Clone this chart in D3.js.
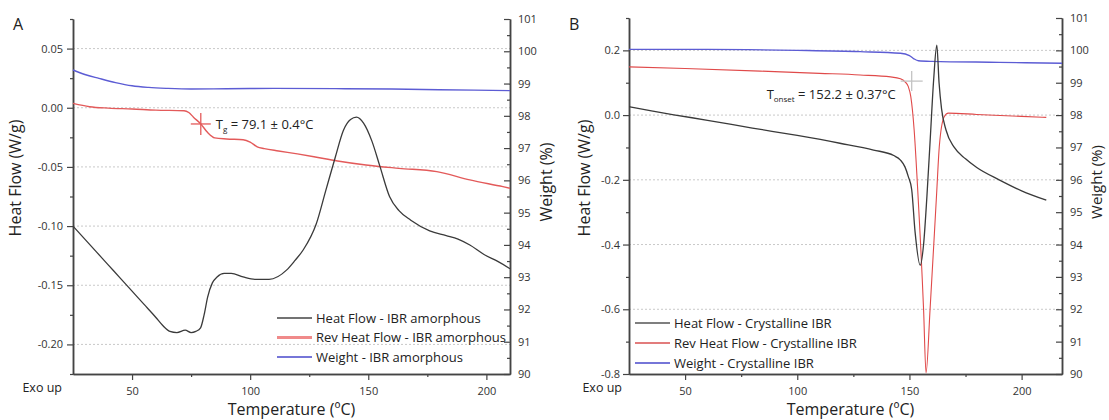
<!DOCTYPE html>
<html>
<head>
<meta charset="utf-8">
<script src="https://cdn.jsdelivr.net/npm/d3@7"></script>
<style>
  body { margin: 0; background: #fff; }
  svg { font-family: 'Open Sans', sans-serif; }
  .axis path, .axis line { stroke: #444; }
  .axis text { font-size: 11px; fill: #333; font-family: 'Open Sans', sans-serif; }
</style>
</head>
<body>
<div id="chart"></div>
<script>
// ---- data (temperature in ºC, heat flow in W/g, weight in %) ----
const tempTicks = [50, 100, 150, 200];
const weightTicks = [90, 91, 92, 93, 94, 95, 96, 97, 98, 99, 100, 101];
const heatTicksA = [-0.20, -0.15, -0.10, -0.05, 0.00, 0.05];
const heatTicksB = [-0.8, -0.6, -0.4, -0.2, 0.0, 0.2];

const tempDomainA = [25, 210];
const tempDomainB = [25, 218];
const heatDomainA = [-0.225, 0.075];
const heatDomainB = [-0.8, 0.3];
const weightDomain = [90, 101];

// panel A, amorphous IBR
const heatFlowA = [[25,-0.100],[30,-0.111],[35,-0.122],[40,-0.133],[45,-0.144],[50,-0.155],[55,-0.166],
  [60,-0.177],[63,-0.184],[66,-0.189],[69,-0.190],[72.5,-0.188],[75,-0.190],[77,-0.189],[79,-0.186],
  [80.5,-0.175],[82,-0.160],[84,-0.148],[86,-0.143],[89,-0.140],[92,-0.140],[97,-0.143],[102,-0.145],
  [108,-0.145],[115.5,-0.137],[119,-0.129],[122.5,-0.120],[128,-0.098],[132,-0.070],[136,-0.042],
  [139.5,-0.019],[142.5,-0.010],[145,-0.008],[148,-0.013],[151.5,-0.028],[155,-0.050],[159,-0.075],
  [163,-0.087],[168,-0.095],[176,-0.104],[183,-0.108],[188,-0.111],[193,-0.116],[199,-0.124],
  [205,-0.130],[210,-0.136]];
const revHeatFlowA = [[25,0.0037],[32,0.0009],[40,-0.0003],[50,-0.001],[60,-0.002],[72,-0.0025],
  [74,-0.004],[76,-0.008],[79.1,-0.0137],[82,-0.021],[85,-0.0255],[90,-0.0264],[97,-0.027],
  [100,-0.029],[103,-0.033],[106,-0.0345],[112,-0.0365],[120,-0.039],[127,-0.0414],[137,-0.045],
  [149,-0.0484],[163,-0.0512],[179,-0.054],[193,-0.061],[207,-0.0667],[210,-0.068]];
const weightA = [[25,99.42],[30,99.28],[36,99.16],[43,99.03],[50,98.93],[57,98.88],[65,98.85],
  [75,98.83],[90,98.84],[110,98.85],[140,98.84],[160,98.83],[180,98.81],[210,98.78]];

// panel B, crystalline IBR
const heatFlowB = [[25,0.026],[35,0.013],[45,0.001],[60,-0.016],[80,-0.040],[100,-0.063],[119,-0.087],
  [134,-0.108],[143,-0.125],[146,-0.139],[148,-0.160],[149.5,-0.190],[151,-0.230],[152.5,-0.360],
  [154.8,-0.464],[156.3,-0.400],[157.8,-0.250],[159.3,-0.070],[160.8,0.110],[162.2,0.216],
  [163.2,0.100],[164.3,0.020],[166.3,-0.046],[170,-0.100],[175,-0.135],[180,-0.162],[190,-0.200],
  [200,-0.234],[211,-0.263]];
const revHeatFlowB = [[25,0.149],[50,0.144],[83.5,0.136],[110,0.129],[128,0.124],[141.6,0.118],
  [146,0.112],[148,0.103],[149.5,0.088],[150.6,0.057],[152.1,-0.046],[153.6,-0.220],[156.3,-0.600],
  [157.4,-0.797],[159.2,-0.600],[162.2,-0.232],[163.3,-0.098],[165.5,-0.005],[167.3,0.006],
  [180,0.002],[200,-0.004],[211,-0.007]];
const weightB = [[25,100.03],[60,100.03],[100,100.0],[128,99.96],[146,99.91],[150,99.84],[152,99.74],
  [154,99.68],[160,99.66],[190,99.63],[218,99.60]];

const legendA = ["Heat Flow - IBR amorphous", "Rev Heat Flow - IBR amorphous", "Weight - IBR amorphous"];
const legendB = ["Heat Flow - Crystalline IBR", "Rev Heat Flow - Crystalline IBR", "Weight - Crystalline IBR"];

// ---- drawing ----
const W = 1109, H = 420;
const svg = d3.select('#chart').append('svg').attr('width', W).attr('height', H);

const fmt2 = v => v.toFixed(2);
const fmt1 = v => v.toFixed(1);
const mids = arr => arr.slice(0, -1).map((v, i) => (v + arr[i + 1]) / 2);

function drawPanel(p) {
  let x = d3.scaleLinear().domain(p.tempDomain).range([p.left, p.right]);
  let y = d3.scaleLinear().domain(p.heatDomain).range([p.bottom, p.top]);
  let yw = d3.scaleLinear().domain(weightDomain).range([p.bottom, p.top]);
  let g = svg.append('g');

  // grid
  g.append('g').selectAll('line')
    .data(p.heatTicks.filter(v => v > p.heatDomain[0]))
    .join('line')
    .attr('x1', p.left).attr('x2', p.right)
    .attr('y1', d => y(d)).attr('y2', d => y(d))
    .attr('stroke', '#c9c9c9').attr('stroke-width', 1).attr('stroke-dasharray', '2,2');

  // axes
  let minorHeat = mids(p.heatTicks);
  if (p.heatTicks[p.heatTicks.length - 1] < p.heatDomain[1]) minorHeat.push(p.heatDomain[1]);
  if (p.heatTicks[0] > p.heatDomain[0]) minorHeat.unshift(p.heatDomain[0]);

  g.append('g').attr('class', 'axis').attr('transform', `translate(${p.left},0)`)
    .call(d3.axisLeft(y).tickValues(minorHeat).tickSize(3).tickSizeOuter(0).tickFormat(''));
  g.append('g').attr('class', 'axis').attr('transform', `translate(${p.left},0)`)
    .call(d3.axisLeft(y).tickValues(p.heatTicks).tickSize(6).tickPadding(p.leftPad).tickSizeOuter(0).tickFormat(p.heatFmt));

  g.append('g').attr('class', 'axis').attr('transform', `translate(${p.right},0)`)
    .call(d3.axisRight(yw).tickValues(mids(weightTicks)).tickSize(-3).tickSizeOuter(0).tickFormat(''));
  g.append('g').attr('class', 'axis').attr('transform', `translate(${p.right},0)`)
    .call(d3.axisRight(yw).tickValues(weightTicks).tickSize(-6).tickPadding(8).tickSizeOuter(0).tickFormat(d3.format('d')));

  g.append('g').attr('class', 'axis').attr('transform', `translate(0,${p.bottom})`)
    .call(d3.axisBottom(x).tickValues(mids(tempTicks)).tickSize(3).tickSizeOuter(0).tickFormat(''));
  g.append('g').attr('class', 'axis').attr('transform', `translate(0,${p.bottom})`)
    .call(d3.axisBottom(x).tickValues(tempTicks).tickSize(6).tickPadding(7).tickSizeOuter(0).tickFormat(d3.format('d')));

  g.selectAll('.axis path').attr('stroke-width', 1.5);
  g.selectAll('.axis line').attr('stroke-width', 1.2);

  // curves
  let lineH = d3.line().x(d => x(d[0])).y(d => y(d[1])).curve(d3.curveMonotoneX);
  let lineW = d3.line().x(d => x(d[0])).y(d => yw(d[1])).curve(d3.curveMonotoneX);
  g.append('path').datum(p.weight).attr('d', lineW).attr('fill', 'none')
    .attr('stroke', p.colors[2]).attr('stroke-width', 1.4);
  g.append('path').datum(p.rev).attr('d', lineH).attr('fill', 'none')
    .attr('stroke', p.colors[1]).attr('stroke-width', p.revWidth);
  g.append('path').datum(p.heat).attr('d', lineH).attr('fill', 'none')
    .attr('stroke', p.colors[0]).attr('stroke-width', 1.3);

  // annotation crosshair + label
  let cx = x(p.mark[0]), cy = y(p.mark[1]);
  g.append('line').attr('x1', cx - p.markSize[0]).attr('x2', cx + p.markSize[0]).attr('y1', cy).attr('y2', cy)
    .attr('stroke', p.markColor).attr('stroke-width', 1.3);
  g.append('line').attr('x1', cx).attr('x2', cx).attr('y1', cy - p.markSize[1]).attr('y2', cy + p.markSize[1])
    .attr('stroke', p.markColor).attr('stroke-width', 1.3);
  let t = g.append('text').attr('x', cx + p.labelOff[0]).attr('y', cy + p.labelOff[1])
    .attr('text-anchor', p.labelAnchor).attr('font-size', 13).attr('fill', '#222');
  t.append('tspan').text('T');
  t.append('tspan').attr('font-size', 8).attr('dy', 3).text(p.sub);
  t.append('tspan').attr('dy', -3).text(p.labelText);

  // legend
  let leg = g.append('g').attr('transform', `translate(${p.left + p.legendX},${p.legendY})`);
  p.legend.forEach((name, i) => {
    leg.append('line').attr('x1', 0).attr('x2', 35).attr('y1', i * p.legendGap).attr('y2', i * p.legendGap)
      .attr('stroke', p.legendColors[i]).attr('stroke-width', p.legendWidths[i]);
    leg.append('text').attr('x', 39).attr('y', i * p.legendGap).attr('dy', '0.35em')
      .attr('font-size', p.legendFont).attr('fill', '#222').text(name);
  });

  // titles
  g.append('text').attr('x', p.left - 60).attr('y', 30).attr('font-size', 16).attr('fill', '#222').text(p.letter);
  g.append('text').attr('transform', `translate(${p.yTitleX},178) rotate(-90)`).attr('text-anchor', 'middle')
    .attr('dy', '0.35em').attr('font-size', 16).attr('fill', '#222').text('Heat Flow (W/g)');
  g.append('text').attr('transform', `translate(${p.right + p.wTitleOff},182) rotate(-90)`).attr('text-anchor', 'middle')
    .attr('dy', '0.35em').attr('font-size', p.wTitleFont).attr('fill', '#222').text('Weight (%)');
  g.append('text').attr('x', (p.left + p.right) / 2 + p.xTitleShift).attr('y', 415).attr('text-anchor', 'middle')
    .attr('font-size', 16).attr('fill', '#222').text('Temperature (ºC)');
  g.append('text').attr('x', p.left - p.exoOff).attr('y', 392).attr('text-anchor', 'end')
    .attr('font-size', 12.5).attr('fill', '#222').text('Exo up');
}

drawPanel({
  letter: 'A', left: 73, right: 510, top: 19, bottom: 374,
  tempDomain: tempDomainA, heatDomain: heatDomainA, heatTicks: heatTicksA, heatFmt: fmt2, leftPad: 4,
  heat: heatFlowA, rev: revHeatFlowA, weight: weightA,
  colors: ['#3a3a3a', '#e35a5a', '#5c5cd4'], revWidth: 1.4,
  mark: [79.1, -0.0137], markSize: [10, 11], markColor: '#e35a5a',
  sub: 'g', labelText: ' = 79.1 ± 0.4°C', labelOff: [15, 5], labelAnchor: 'start',
  legend: legendA, legendX: 204, legendY: 318, legendGap: 19.5, legendFont: 13,
  legendColors: ['#444', '#f08a8a', '#7676d8'], legendWidths: [1.3, 3, 2],
  yTitleX: 15, wTitleOff: 36, wTitleFont: 16, exoOff: 11, xTitleShift: 0
});

drawPanel({
  letter: 'B', left: 629, right: 1062, top: 18, bottom: 374,
  tempDomain: tempDomainB, heatDomain: heatDomainB, heatTicks: heatTicksB, heatFmt: fmt1, leftPad: 3,
  heat: heatFlowB, rev: revHeatFlowB, weight: weightB,
  colors: ['#3a3a3a', '#e04a4a', '#5c5cd4'], revWidth: 1.1,
  mark: [151, 0.105], markSize: [11, 10], markColor: '#c4c4c4',
  sub: 'onset', labelText: ' = 152.2 ± 0.37°C', labelOff: [-16, 18], labelAnchor: 'end',
  legend: legendB, legendX: 6, legendY: 323, legendGap: 20, legendFont: 13,
  legendColors: ['#555', '#d85050', '#7676d8'], legendWidths: [1.5, 1.5, 2],
  yTitleX: 584, wTitleOff: 35, wTitleFont: 15, exoOff: 7, xTitleShift: 5
});
</script>
</body>
</html>
